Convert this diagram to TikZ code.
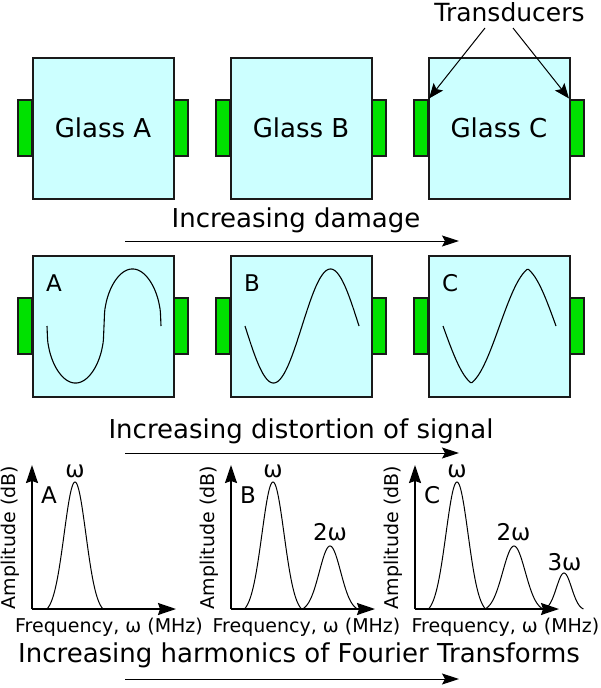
\documentclass[tikz,border=0pt]{standalone}
\usepackage{fontspec}
\setmainfont{DejaVu Sans}
\usetikzlibrary{arrows.meta}
\definecolor{glassfill}{HTML}{CCFFFF}
\definecolor{transgreen}{RGB}{0,225,0}
\definecolor{edge}{HTML}{1A1A1A}
\begin{document}
\begin{tikzpicture}[x=1pt,y=-1pt,
  glass/.style={draw=edge, line width=2pt, fill=glassfill, minimum width=141pt, minimum height=141pt, inner sep=0pt, font=\fontsize{26}{30}\selectfont},
  transducer/.style={draw=edge, line width=2pt, fill=transgreen, minimum width=14pt, minimum height=56pt, inner sep=0pt},
  bigtext/.style={font=\fontsize{26}{30}\selectfont, inner sep=0pt, anchor=base},
  midtext/.style={font=\fontsize{23}{27}\selectfont, inner sep=0pt},
  smalltext/.style={font=\fontsize{19}{22}\selectfont, inner sep=0pt, anchor=base},
  flow/.style={line width=1pt, -{Stealth[length=17pt,width=11pt,inset=3pt]}},
  pointer/.style={line width=1pt, -{Stealth[length=15pt,width=12pt,inset=3pt]}},
  axisline/.style={line width=1.6pt, -{Stealth[length=18pt,width=12pt,inset=2pt]}},
  wave/.style={line width=1.1pt},
  peak/.style={line width=1pt},
]
\useasboundingbox (0,0) rectangle (600,688);

% ---------- Row 1: glasses ----------
\foreach \n/\cx/\lab in {A/103/Glass A, B/301/Glass B, C/499/Glass C}{
  \node[transducer] (t\n1) at (\cx-78,127.5) {};
  \node[transducer] (t\n2) at (\cx+78,127.5) {};
  \node[glass] (g\n) at (\cx,128) {\lab};
}
\node[font=\fontsize{25}{29}\selectfont, inner sep=0pt, anchor=base] (tr) at (509.5,21) {Transducers};
\coordinate (trl) at (485,28);
\coordinate (trr) at (513,28);
\draw[pointer] (trl) -- (tC1.north east);
\draw[pointer] (trr) -- (tC2.north west);

\node[bigtext] (dmg) at (296,227) {Increasing damage};
\coordinate (d1) at (125,241);
\coordinate (d2) at (459,241);
\draw[flow] (d1) -- (d2);

% ---------- Row 2: signals ----------
\foreach \n/\cx in {A/103, B/301, C/499}{
  \node[transducer] (s\n1) at (\cx-78,326) {};
  \node[transducer] (s\n2) at (\cx+78,326) {};
  \node[glass] (w\n) at (\cx,326) {};
  \node[midtext, anchor=base west] (l\n) at (\cx-57,291) {\n};
}
% A: saturated sine
\draw[wave] plot[domain=0:360, samples=181, smooth]
  ({47+114*(\x/360)}, {326+57*sign(sin(\x))*exp(0.42*ln(abs(sin(\x))+0.001))});
% B: sine
\draw[wave] plot[domain=0:360, samples=91, smooth]
  ({245+114*(\x/360)}, {326+57*sin(\x)});
% C: triangular-ish
\draw[wave] plot[domain=0:360, samples=91, smooth]
  ({443+113*(\x/360)}, {326+57*(0.65*sin(\x)+0.35*asin(sin(\x))/90)});

\node[bigtext] (dist) at (301,438) {Increasing distortion of signal};
\coordinate (e1) at (125,453);
\coordinate (e2) at (459,453);
\draw[flow] (e1) -- (e2);

% ---------- Row 3: spectra ----------
\foreach \n/\ox/\fx in {A/32/109, B/231/306.5, C/415/505.5}{
  \coordinate (o\n) at (\ox,609);
  \coordinate (y\n) at (\ox,465);
  \coordinate (x\n) at (\ox+144,609);
  \draw[axisline] (o\n) -- (y\n);
  \draw[axisline] (o\n) -- (x\n);
  \node[smalltext, rotate=90] (amp\n) at (\ox-17,537.5) {Amplitude (dB)};
  \node[smalltext] (fr\n) at (\fx,632) {Frequency, ω (MHz)};
  \node[midtext, anchor=base west] (gl\n) at (\ox+9,503) {\n};
}
\foreach \c/\w/\h in {75/28/127, 273/28.5/127, 330/27.5/63, 457/28.5/127, 514/29/63, 564/19.5/36}{
  \draw[peak] plot[domain=-1:1, samples=61, smooth]
    ({\c+\w*\x}, {609-\h*(exp(-(\x*\x)/0.3)-exp(-3.333))/(1-exp(-3.333))});
}
\node[midtext, anchor=base] (wA) at (75,477) {ω};
\node[midtext, anchor=base] (wB) at (273,477) {ω};
\node[midtext, anchor=base] (wB2) at (330,540) {2ω};
\node[midtext, anchor=base] (wC) at (457,477) {ω};
\node[midtext, anchor=base] (wC2) at (513.5,540) {2ω};
\node[midtext, anchor=base] (wC3) at (564.5,570) {3ω};

\node[bigtext] (harm) at (299,662) {Increasing harmonics of Fourier Transforms};
\coordinate (h1) at (125,679);
\coordinate (h2) at (459,679);
\draw[flow] (h1) -- (h2);
\end{tikzpicture}
\end{document}
